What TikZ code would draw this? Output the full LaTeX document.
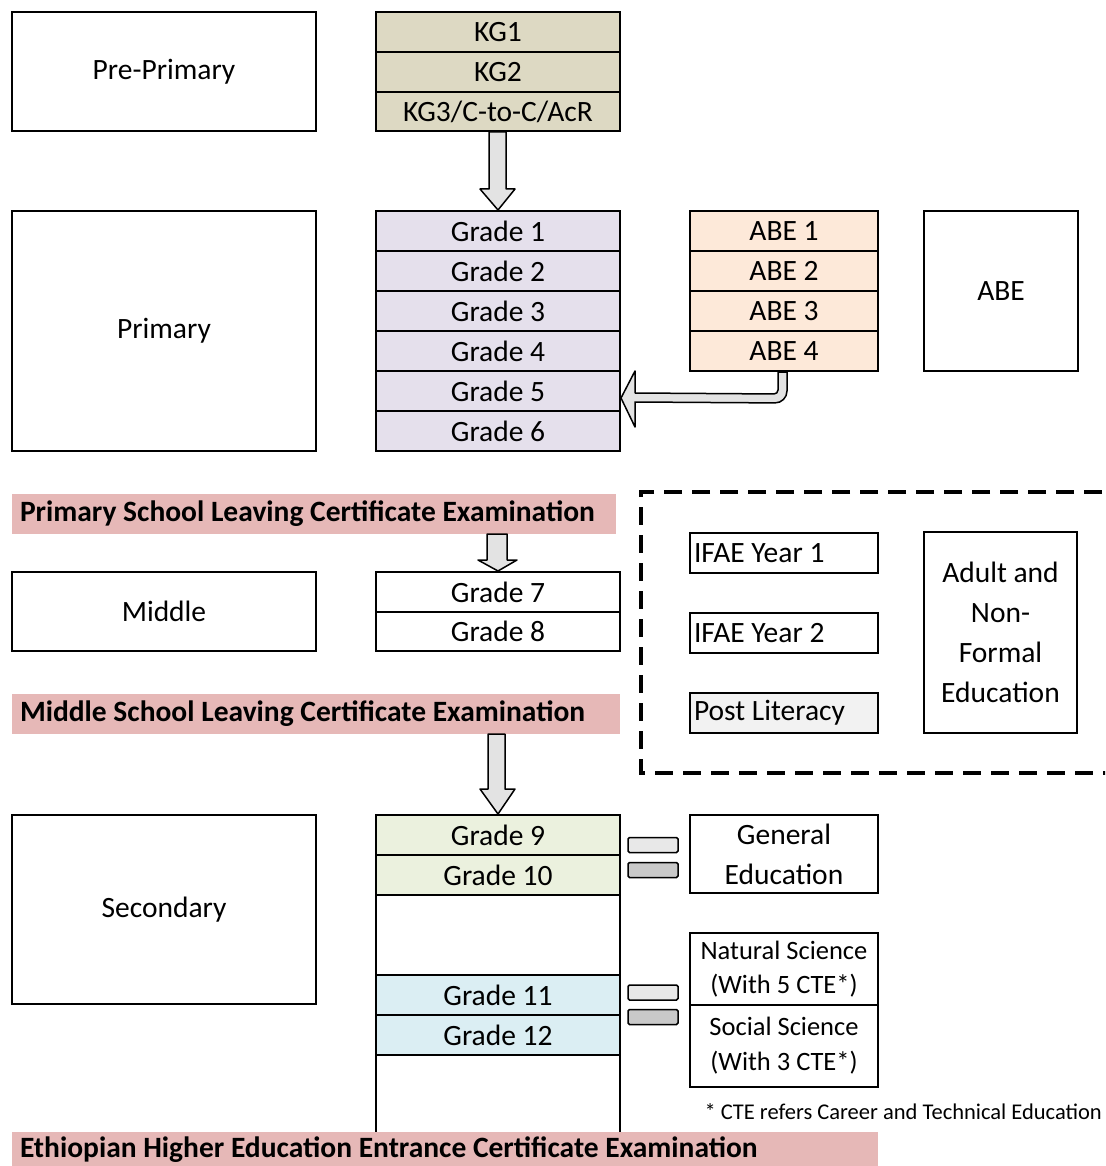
\documentclass[tikz,border=0pt]{standalone}
\usepackage{fontspec}
\setmainfont{Carlito}
\usetikzlibrary{calc}
\definecolor{kgtan}{HTML}{DDD9C3}
\definecolor{lav}{HTML}{E5E0EC}
\definecolor{peach}{HTML}{FDE9D9}
\definecolor{lgreen}{HTML}{EBF1DE}
\definecolor{lblue}{HTML}{DBEEF3}
\definecolor{hpink}{HTML}{E6B8B7}
\definecolor{plgray}{HTML}{F2F2F2}
\tikzset{
  bx/.style={draw, line width=2pt, inner sep=0pt, align=center, font=\fontsize{29.5}{40}\selectfont},
  row/.style={bx, minimum width=244pt, minimum height=40pt},
  abrow/.style={bx, minimum width=188pt, minimum height=40pt, fill=peach},
  lbl/.style={bx, minimum width=304pt},
  ifae/.style={draw, line width=2pt, inner sep=0pt, minimum width=188pt, minimum height=40pt, font=\fontsize{29.5}{40}\selectfont},
  hdr/.style={fill=hpink, inner sep=0pt, minimum height=40pt, font=\fontsize{29.5}{32}\selectfont\bfseries},
  blockarrow/.style={draw, line width=1.5pt, fill=gray!22, line join=round},
  eqbar/.style={draw, line width=1.5pt, minimum width=50pt, minimum height=15pt, inner sep=0pt, rounded corners=1.5pt}
}
\begin{document}
\begin{tikzpicture}[x=1pt,y=-1pt]
\useasboundingbox (0,0) rectangle (1105,1166);
\fill[white] (0,0) rectangle (1105,1166);
% Pre-primary
\node[lbl, minimum height=119pt] (pp) at (164,71.5) {Pre-Primary};
\node[row, fill=kgtan] (kg1) at (498,32) {KG1};
\node[row, fill=kgtan] (kg2) at (498,72) {KG2};
\node[row, fill=kgtan, minimum height=39pt] (kg3) at (498,111.5) {KG3/C-to-C/AcR};
% Primary
\node[lbl, minimum height=240pt] (prim) at (164,331) {Primary};
\foreach \i/\y in {1/231,2/271,3/311,4/351,5/391,6/431}{
  \node[row, fill=lav] (g\i) at (498,\y) {Grade \i};
}
\foreach \i/\y in {1/231,2/271,3/311,4/351}{
  \node[abrow] (abe\i) at (784,\y) {ABE \i};
}
\node[bx, minimum width=154pt, minimum height=160pt] (abe) at (1001,291) {ABE};
% arrow KG -> Grade 1
\draw[blockarrow] ($(kg3.south)+(-9,0)$) -- ($(kg3.south)+(8,0)$) -- ($(g1.north)+(8,-21)$) -- ($(g1.north)+(17,-21)$) -- (g1.north) -- ($(g1.north)+(-18,-21)$) -- ($(g1.north)+(-9,-21)$) -- cycle;
% bent arrow ABE 4 -> Grade 5
\draw[blockarrow] ($(abe4.south)+(3,0)$) [rounded corners=12pt] -- ($(abe4.south)+(3,31)$) [sharp corners] -- ($(g5.east)+(14,11)$) -- ($(g5.east)+(14,36)$) -- ($(g5.east)+(0,7)$) -- ($(g5.east)+(14,-20)$) -- ($(g5.east)+(14,2)$) [rounded corners=4pt] -- ($(abe4.south)+(-6,22)$) [sharp corners] -- ($(abe4.south)+(-6,0)$) -- cycle;
% Primary school leaving
\node[hdr, minimum width=604pt] (psl) at (314,514) {\makebox[588pt][l]{Primary School Leaving Certificate Examination}};
% Middle
\node[lbl, minimum height=79pt] (mid) at (164,611.5) {Middle};
\node[row] (g7) at (498,592) {Grade 7};
\node[row, minimum height=39pt] (g8) at (498,631.5) {Grade 8};
\draw[blockarrow] ($(g7.north)+(-11,-37)$) -- ($(g7.north)+(9,-37)$) -- ($(g7.north)+(9,-11)$) -- ($(g7.north)+(19,-11)$) -- (g7.north) -- ($(g7.north)+(-20,-11)$) -- ($(g7.north)+(-11,-11)$) -- cycle;
% Dashed box (adult)
\begin{scope}
\clip (0,0) rectangle (1105,1166);
\draw[line width=4pt, dash pattern=on 18pt off 10pt] (1130,492) -- (641,492) -- (641,773) -- (1130,773);
\end{scope}
\node[ifae] (if1) at (784,553) {\makebox[180pt][l]{IFAE Year 1}};
\node[ifae] (if2) at (784,633) {\makebox[180pt][l]{IFAE Year 2}};
\node[ifae, fill=plgray] (pl) at (784,713) {\makebox[180pt][l]{Post Literacy}};
\node[bx, minimum width=153pt, minimum height=201pt] (anfe) at (1000.5,632.5) {Adult and\\Non-\\Formal\\Education};
% Middle school leaving
\node[hdr, minimum width=608pt] (msl) at (316,714) {\makebox[592pt][l]{Middle School Leaving Certificate Examination}};
% Secondary
\node[lbl, minimum height=189pt] (sec) at (164,909.5) {Secondary};
\node[bx, minimum width=244pt, minimum height=318pt] (secstack) at (498,974) {};
\node[row, fill=lgreen] (g9) at (498,835) {Grade 9};
\node[row, fill=lgreen] (g10) at (498,875) {Grade 10};
\node[row, fill=lblue] (g11) at (498,995) {Grade 11};
\node[row, fill=lblue] (g12) at (498,1035) {Grade 12};
\draw[blockarrow] ($(msl.south)+(172,0)$) -- ($(msl.south)+(189,0)$) -- ($(g9.north)+(7,-25)$) -- ($(g9.north)+(17,-25)$) -- (g9.north) -- ($(g9.north)+(-18,-25)$) -- ($(g9.north)+(-10,-25)$) -- cycle;
% equals signs
\node[eqbar, fill=gray!18] (eqa1) at (653,845) {};
\node[eqbar, fill=gray!42] (eqa2) at (653,870) {};
\node[eqbar, fill=gray!18] (eqb1) at (653,992.5) {};
\node[eqbar, fill=gray!42] (eqb2) at (653,1017) {};
% streams
\node[bx, minimum width=188pt, minimum height=78pt] (gen) at (784,854) {General\\Education};
\node[bx, minimum width=188pt, minimum height=72pt, font=\fontsize{26.5}{34}\selectfont] (nat) at (784,969) {Natural Science\\(With 5 CTE*)};
\node[bx, minimum width=188pt, minimum height=82pt, font=\fontsize{26.5}{35}\selectfont] (soc) at (784,1046) {Social Science\\(With 3 CTE*)};
\node[anchor=east, inner sep=0pt, font=\fontsize{22.5}{24}\selectfont] (note) at (1102,1112) {* CTE refers Career and Technical Education};
% Higher education
\node[hdr, minimum width=866pt, minimum height=36pt] (hee) at (445,1150) {\makebox[850pt][l]{Ethiopian Higher Education Entrance Certificate Examination}};
\end{tikzpicture}
\end{document}
